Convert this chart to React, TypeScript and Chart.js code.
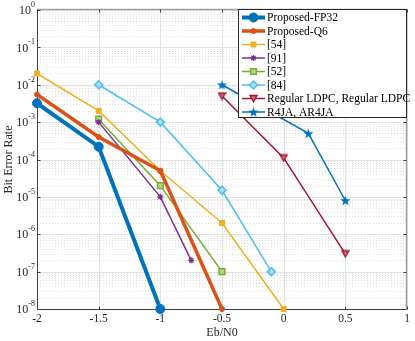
import React, { useEffect, useRef } from 'react';
import { Chart, registerables } from 'chart.js';
import { drawPoint } from 'chart.js/helpers';
Chart.register(...registerables);

// ---- data ----
const xTicks = [-2, -1.5, -1, -0.5, 0, 0.5, 1];
const yExponents = [0, -1, -2, -3, -4, -5, -6, -7, -8];

const fp32X = [-2, -1.5, -1];
const fp32Y = [3.2e-3, 2.2e-4, 1e-8];
const q6X = [-2, -1.5, -1, -0.5];
const q6Y = [5.5e-3, 4e-4, 5e-5, 1e-8];
const r54X = [-2, -1.5, -1, -0.5, 0];
const r54Y = [2e-2, 2e-3, 5e-5, 2e-6, 1e-8];
const r91X = [-1.5, -1, -0.75];
const r91Y = [1e-3, 1e-5, 2e-7];
const r52X = [-1.5, -1, -0.5];
const r52Y = [1.2e-3, 2e-5, 1e-7];
const r84X = [-1.5, -1, -0.5, -0.1];
const r84Y = [1e-2, 1e-3, 1.5e-5, 1e-7];
const ldpcX = [-0.5, 0, 0.5];
const ldpcY = [5e-3, 1.1e-4, 3e-7];
const r4jaX = [-0.5, 0.2, 0.5];
const r4jaY = [1e-2, 5e-4, 8e-6];

const seriesNames = [
  'Proposed-FP32',
  'Proposed-Q6',
  '[54]',
  '[91]',
  '[52]',
  '[84]',
  'Regular LDPC, Regular LDPC',
  'R4JA, AR4JA',
];

const FONT = "'Liberation Serif', 'Times New Roman', serif";
const TEXT = '#262626';

function pts(xs: number[], ys: number[]) {
  return xs.map((x, i) => ({ x, y: ys[i] }));
}

function makeTriangleDown(): HTMLCanvasElement {
  const c = document.createElement('canvas');
  c.width = 9;
  c.height = 9;
  const g = c.getContext('2d')!;
  g.beginPath();
  g.moveTo(1, 1.5);
  g.lineTo(8, 1.5);
  g.lineTo(4.5, 7.8);
  g.closePath();
  g.fillStyle = '#c96a7a';
  g.fill();
  g.strokeStyle = '#A2142F';
  g.lineWidth = 1.3;
  g.stroke();
  return c;
}

function makeStar(): HTMLCanvasElement {
  const c = document.createElement('canvas');
  c.width = 11;
  c.height = 11;
  const g = c.getContext('2d')!;
  const cx = 5.5, cy = 6, R = 5.3, r = 2.2;
  g.beginPath();
  for (let i = 0; i < 10; i++) {
    const ang = -Math.PI / 2 + (i * Math.PI) / 5;
    const rad = i % 2 === 0 ? R : r;
    const px = cx + rad * Math.cos(ang);
    const py = cy + rad * Math.sin(ang);
    if (i === 0) g.moveTo(px, py);
    else g.lineTo(px, py);
  }
  g.closePath();
  g.fillStyle = '#0072BD';
  g.fill();
  return c;
}

const axesPlugin = {
  id: 'matlabAxes',
  beforeDatasetsDraw(chart: any) {
    const { ctx, chartArea: a, scales } = chart;
    const x = scales.x, y = scales.y;
    ctx.save();
    // minor y grid (dotted)
    ctx.lineWidth = 1;
    ctx.setLineDash([1, 2]);
    ctx.strokeStyle = '#e0e0e0';
    for (let e = -8; e < 0; e++) {
      for (let m = 2; m <= 9; m++) {
        const py = Math.round(y.getPixelForValue(m * Math.pow(10, e))) + 0.5;
        ctx.beginPath();
        ctx.moveTo(a.left, py);
        ctx.lineTo(a.right, py);
        ctx.stroke();
      }
    }
    ctx.setLineDash([]);
    ctx.strokeStyle = '#e2e2e2';
    for (const e of yExponents) {
      const py = Math.round(y.getPixelForValue(Math.pow(10, e))) + 0.5;
      ctx.beginPath();
      ctx.moveTo(a.left, py);
      ctx.lineTo(a.right, py);
      ctx.stroke();
    }
    for (const t of xTicks) {
      const px = Math.round(x.getPixelForValue(t)) + 0.5;
      ctx.beginPath();
      ctx.moveTo(px, a.top);
      ctx.lineTo(px, a.bottom);
      ctx.stroke();
    }
    // box
    const L = Math.round(a.left) + 0.5, R = Math.round(a.right) - 0.5;
    const T = Math.round(a.top) - 0.5, B = Math.round(a.bottom) + 0.5;
    ctx.strokeStyle = '#a0a0a0';
    ctx.lineWidth = 1.5;
    ctx.beginPath();
    ctx.moveTo(L, T);
    ctx.lineTo(R, T);
    ctx.lineTo(R, B);
    ctx.stroke();
    ctx.strokeStyle = '#404040';
    ctx.lineWidth = 1;
    ctx.beginPath();
    ctx.moveTo(L, T);
    ctx.lineTo(L, B);
    ctx.lineTo(R, B);
    ctx.stroke();
    // tick marks
    ctx.strokeStyle = '#404040';
    for (const t of xTicks) {
      const px = Math.round(x.getPixelForValue(t)) + 0.5;
      ctx.beginPath();
      ctx.moveTo(px, B);
      ctx.lineTo(px, B - 3);
      ctx.moveTo(px, T);
      ctx.lineTo(px, T + 3);
      ctx.stroke();
    }
    for (const e of yExponents) {
      const py = Math.round(y.getPixelForValue(Math.pow(10, e))) + 0.5;
      ctx.beginPath();
      ctx.moveTo(L, py);
      ctx.lineTo(L + 3, py);
      ctx.moveTo(R, py);
      ctx.lineTo(R - 3, py);
      ctx.stroke();
    }
    // y tick labels 10^e
    ctx.fillStyle = TEXT;
    ctx.textBaseline = 'middle';
    ctx.textAlign = 'left';
    for (const e of yExponents) {
      const py = y.getPixelForValue(Math.pow(10, e));
      ctx.font = `12px ${FONT}`;
      const bw = ctx.measureText('10').width;
      ctx.font = `8px ${FONT}`;
      const es = String(e);
      const ew = ctx.measureText(es).width;
      const right = a.left - 2;
      ctx.font = `12px ${FONT}`;
      ctx.fillText('10', right - ew - bw, py + 1);
      ctx.font = `8px ${FONT}`;
      ctx.fillText(es, right - ew, py - 5);
    }
    // axis titles
    ctx.font = `12px ${FONT}`;
    ctx.textAlign = 'center';
    ctx.textBaseline = 'middle';
    ctx.fillText('Eb/N0', (a.left + a.right) / 2, 333);
    ctx.save();
    ctx.translate(9, (a.top + a.bottom) / 2);
    ctx.rotate(-Math.PI / 2);
    ctx.fillText('Bit Error Rate', 0, 0);
    ctx.restore();
    ctx.restore();
  },
  afterDatasetsDraw(chart: any) {
    const { ctx } = chart;
    ctx.save();
    const bx = 238.5, by = 9.5, bw = 168, bh = 108;
    ctx.fillStyle = '#ffffff';
    ctx.fillRect(bx, by, bw, bh);
    ctx.strokeStyle = '#262626';
    ctx.lineWidth = 1;
    ctx.strokeRect(bx, by, bw, bh);
    chart.data.datasets.forEach((ds: any, i: number) => {
      const yy = 17.5 + i * 13.5;
      ctx.strokeStyle = ds.borderColor;
      ctx.lineWidth = ds.borderWidth;
      ctx.beginPath();
      ctx.moveTo(242, yy);
      ctx.lineTo(265, yy);
      ctx.stroke();
      ctx.fillStyle = ds.pointBackgroundColor;
      ctx.strokeStyle = ds.borderColor;
      ctx.lineWidth = ds.pointBorderWidth;
      drawPoint(ctx, { pointStyle: ds.pointStyle, radius: ds.pointRadius, rotation: 0, borderWidth: ds.pointBorderWidth }, 253.5, yy);
      ctx.fillStyle = '#000000';
      ctx.font = `11.5px ${FONT}`;
      ctx.textAlign = 'left';
      ctx.textBaseline = 'middle';
      ctx.fillText(ds.label, 267, yy + 0.5);
    });
    ctx.restore();
  },
};

export default function App() {
  const ref = useRef<HTMLCanvasElement | null>(null);
  useEffect(() => {
    if (!ref.current) return;
    const tri = makeTriangleDown();
    const star = makeStar();
    const mk = (label: string, data: any[], color: string, width: number, style: any, radius: number, fill: string, bw = 1) => ({
      label,
      data,
      borderColor: color,
      backgroundColor: color,
      borderWidth: width,
      pointStyle: style,
      pointRadius: radius,
      pointHoverRadius: radius,
      pointBackgroundColor: fill,
      pointBorderColor: color,
      pointBorderWidth: bw,
      tension: 0,
      clip: false as any,
    });
    const chart = new Chart(ref.current, {
      type: 'line',
      data: {
        datasets: [
          mk(seriesNames[0], pts(fp32X, fp32Y), '#0072BD', 4, 'circle', 4.5, '#0072BD'),
          mk(seriesNames[1], pts(q6X, q6Y), '#D95319', 3.5, 'circle', 2.5, '#D95319'),
          mk(seriesNames[2], pts(r54X, r54Y), '#EDB120', 1.5, 'rect', 3.5, '#EDB120'),
          mk(seriesNames[3], pts(r91X, r91Y), '#7E2F8E', 1.5, 'star', 3, '#7E2F8E', 1.3),
          mk(seriesNames[4], pts(r52X, r52Y), '#77AC30', 1.5, 'rect', 4, '#b5d68f', 1.5),
          mk(seriesNames[5], pts(r84X, r84Y), '#4DBEEE', 1.5, 'rectRot', 4, '#a8def6', 1.5),
          mk(seriesNames[6], pts(ldpcX, ldpcY), '#A2142F', 1.5, tri, 4, '#A2142F'),
          mk(seriesNames[7], pts(r4jaX, r4jaY), '#0072BD', 1.5, star, 5, '#0072BD'),
        ],
      },
      options: {
        animation: false,
        responsive: true,
        maintainAspectRatio: false,
        layout: { padding: { top: 10, right: 8, left: 0, bottom: 0 } },
        plugins: { legend: { display: false }, tooltip: { enabled: false } },
        scales: {
          x: {
            type: 'linear',
            min: -2,
            max: 1,
            afterFit: (s: any) => { s.height = 32; },
            afterBuildTicks: (s: any) => { s.ticks = xTicks.map((v) => ({ value: v })); },
            ticks: {
              callback: (v: any) => String(v),
              font: { family: FONT, size: 11.5 },
              color: TEXT,
              padding: 3,
              maxRotation: 0,
            },
            grid: { display: false, drawTicks: false },
            border: { display: false },
          },
          y: {
            type: 'logarithmic',
            min: 1e-8,
            max: 1,
            afterFit: (s: any) => { s.width = 37; },
            ticks: { display: false },
            grid: { display: false, drawTicks: false },
            border: { display: false },
          },
        },
      },
      plugins: [axesPlugin],
    } as any);
    return () => chart.destroy();
  }, []);
  return (
    <div style={{ position: 'fixed', left: 0, top: 0, width: 415, height: 341, background: '#fff' }}>
      <canvas ref={ref} />
    </div>
  );
}
